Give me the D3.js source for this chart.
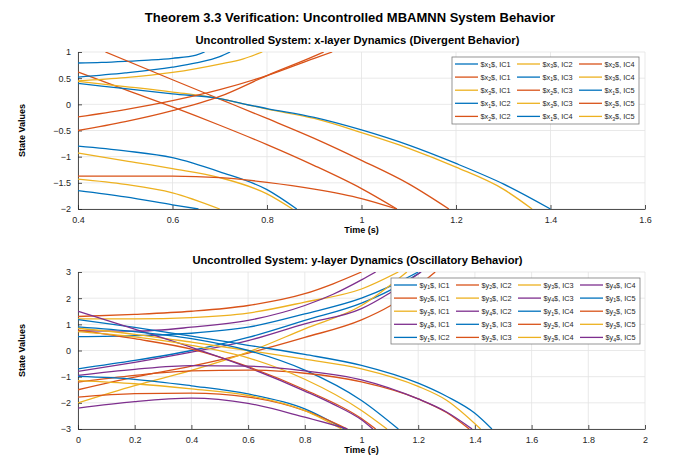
<!DOCTYPE html>
<html>
<head>
<meta charset="utf-8">
<script src="https://cdn.jsdelivr.net/npm/d3@7/dist/d3.min.js"></script>
<style>
  html, body { margin: 0; padding: 0; background: #fff; }
  svg { display: block; font-family: "Liberation Sans", Arial, sans-serif; }
</style>
</head>
<body>
<svg id="chart" width="698" height="468"></svg>
<script>
// colours used by the figure
const BLUE = "#0072BD", ORANGE = "#D95319", YELLOW = "#EDB120", PURPLE = "#7E2F8E";

// ---- x-layer curves, [time, value] ----
const x1IC1 = [[0.4,0.79],[0.45,0.80],[0.5,0.82],[0.55,0.845],[0.6,0.88],[0.65,0.94],[0.668,1.0]];
const x2IC1 = [[0.4,0.62],[0.5,0.28],[0.6,-0.05],[0.7,-0.40],[0.8,-0.77],[0.9,-1.17],[1.0,-1.61],[1.075,-2.0]];
const x3IC1 = [[0.4,0.45],[0.5,0.51],[0.6,0.61],[0.7,0.77],[0.75,0.87],[0.79,1.0]];
const x1IC2 = [[0.4,0.52],[0.5,0.60],[0.6,0.71],[0.65,0.79],[0.7,0.91],[0.722,1.0]];
const x2IC2 = [[0.458,1.0],[0.6,0.47],[0.7,0.10],[0.8,-0.27],[0.9,-0.65],[1.0,-1.07],[1.1,-1.52],[1.185,-2.0]];
const x3IC2 = [[0.4,0.44],[0.5,0.34],[0.6,0.235],[0.7,0.11],[0.75,0.01],[0.8,-0.09],[0.9,-0.27],[1.0,-0.54],[1.1,-0.84],[1.2,-1.20],[1.3,-1.62],[1.361,-2.0]];
const x1IC3 = [[0.4,0.40],[0.5,0.30],[0.6,0.20],[0.7,0.11],[0.75,0.01],[0.8,-0.08],[0.9,-0.25],[1.0,-0.49],[1.1,-0.78],[1.2,-1.13],[1.3,-1.52],[1.4,-2.0]];
const x2IC3 = [[0.4,-0.24],[0.5,-0.10],[0.6,0.07],[0.7,0.28],[0.8,0.55],[0.9,0.88],[0.938,1.0]];
const x3IC3 = [[0.4,-0.93],[0.5,-1.08],[0.6,-1.23],[0.7,-1.40],[0.8,-1.71],[0.854,-2.0]];
const x1IC4 = [[0.4,-0.80],[0.5,-0.89],[0.6,-1.02],[0.7,-1.29],[0.8,-1.63],[0.863,-2.0]];
const x2IC4 = [[0.4,-0.5],[0.5,-0.33],[0.6,-0.12],[0.7,0.15],[0.8,0.55],[0.9,0.92],[0.92,1.0]];
const x3IC4 = [[0.4,-1.43],[0.5,-1.53],[0.6,-1.69],[0.7,-2.0]];
const x1IC5 = [[0.4,-1.65],[0.5,-1.77],[0.6,-1.92],[0.655,-2.0]];
const x2IC5 = [[0.4,-1.37],[0.5,-1.37],[0.6,-1.37],[0.7,-1.40],[0.8,-1.49],[0.9,-1.62],[1.0,-1.80],[1.075,-2.0]];
const x3IC5 = [];

// ---- y-layer curves ----
const y1IC1 = [[0,0.53],[0.2,0.57],[0.4,0.66],[0.6,0.89],[0.8,1.40],[1.0,2.0],[1.1,2.45],[1.2,3.0]];
const y2IC1 = [[0,1.3],[0.2,1.38],[0.4,1.5],[0.6,1.72],[0.8,2.17],[0.9,2.55],[1.0,3.0]];
const y3IC1 = [[0,1.21],[0.2,1.21],[0.4,1.26],[0.6,1.43],[0.8,1.85],[1.0,2.35],[1.13,3.0]];
const y4IC1 = [[0,0.75],[0.2,0.74],[0.4,0.89],[0.6,1.15],[0.8,1.72],[0.9,2.15],[1.0,2.7],[1.05,3.0]];
const y1IC2 = [[0,-0.70],[0.2,-0.38],[0.4,0.0],[0.6,0.5],[0.8,1.15],[1.0,1.81],[1.1,2.3],[1.21,3.0]];
const y2IC2 = [[0,-1.5],[0.2,-1.02],[0.4,-0.6],[0.6,-0.1],[0.8,0.5],[1.0,1.17],[1.1,1.7],[1.26,3.0]];
const y3IC2 = [[0,-2.0],[0.2,-1.34],[0.4,-0.76],[0.6,-0.06],[0.8,0.83],[1.0,1.72],[1.16,3.0]];
const y4IC2 = [[0,-0.80],[0.2,-0.45],[0.4,-0.06],[0.6,0.38],[0.8,1.02],[1.0,1.6],[1.1,2.2],[1.21,3.0]];
const y1IC3 = [[0,1.18],[0.2,0.88],[0.4,0.55],[0.6,0.2],[0.8,-0.15],[1.0,-0.57],[1.2,-1.25],[1.3,-1.75],[1.4,-2.4],[1.46,-3.0]];
const y2IC3 = [[0,0.78],[0.2,0.45],[0.4,0.05],[0.6,-0.62],[0.8,-1.5],[1.0,-2.6],[1.05,-3.0]];
const y3IC3 = [[0,0.85],[0.2,0.62],[0.4,0.32],[0.6,0.0],[0.8,-0.33],[1.0,-0.70],[1.2,-1.37],[1.3,-1.9],[1.42,-3.0]];
const y4IC3 = [[0,1.5],[0.2,0.82],[0.4,0.12],[0.6,-0.65],[0.8,-1.55],[0.9,-2.05],[1.0,-2.65],[1.04,-3.0]];
const y1IC4 = [[0,0.9],[0.2,0.72],[0.4,0.45],[0.6,0.0],[0.8,-0.75],[1.0,-1.91],[1.13,-3.0]];
const y2IC4 = [[0,-1.21],[0.2,-0.95],[0.4,-0.78],[0.6,-0.75],[0.8,-0.87],[1.0,-1.2],[1.2,-1.85],[1.3,-2.37],[1.38,-3.0]];
const y3IC4 = [[0,0.72],[0.2,0.52],[0.4,0.2],[0.6,-0.28],[0.8,-1.1],[1.0,-2.29],[1.09,-3.0]];
const y4IC4 = [[0,-0.95],[0.2,-0.72],[0.4,-0.58],[0.6,-0.6],[0.8,-0.78],[1.0,-1.12],[1.2,-1.85],[1.3,-2.35],[1.39,-3.0]];
const y1IC5 = [[0,-0.99],[0.2,-1.1],[0.4,-1.35],[0.6,-1.66],[0.8,-2.23],[0.94,-3.0]];
const y2IC5 = [[0,-1.78],[0.2,-1.65],[0.4,-1.63],[0.6,-1.78],[0.8,-2.3],[0.95,-3.0]];
const y3IC5 = [[0,-1.15],[0.2,-1.27],[0.4,-1.47],[0.6,-1.72],[0.8,-2.3],[0.93,-3.0]];
const y4IC5 = [[0,-2.2],[0.2,-1.95],[0.4,-1.82],[0.6,-2.02],[0.8,-2.55],[0.95,-3.0]];

// tick values
const xTicksTop = [0.4, 0.6, 0.8, 1.0, 1.2, 1.4, 1.6];
const yTicksTop = [-2, -1.5, -1, -0.5, 0, 0.5, 1];
const xTicksBottom = [0, 0.2, 0.4, 0.6, 0.8, 1, 1.2, 1.4, 1.6, 1.8, 2];
const yTicksBottom = [-3, -2, -1, 0, 1, 2, 3];

// series in plot order (IC outer loop, variable inner loop)
const xSeries = [
  { v: 1, ic: 1, color: BLUE, data: x1IC1 }, { v: 2, ic: 1, color: ORANGE, data: x2IC1 }, { v: 3, ic: 1, color: YELLOW, data: x3IC1 },
  { v: 1, ic: 2, color: BLUE, data: x1IC2 }, { v: 2, ic: 2, color: ORANGE, data: x2IC2 }, { v: 3, ic: 2, color: YELLOW, data: x3IC2 },
  { v: 1, ic: 3, color: BLUE, data: x1IC3 }, { v: 2, ic: 3, color: ORANGE, data: x2IC3 }, { v: 3, ic: 3, color: YELLOW, data: x3IC3 },
  { v: 1, ic: 4, color: BLUE, data: x1IC4 }, { v: 2, ic: 4, color: ORANGE, data: x2IC4 }, { v: 3, ic: 4, color: YELLOW, data: x3IC4 },
  { v: 1, ic: 5, color: BLUE, data: x1IC5 }, { v: 2, ic: 5, color: ORANGE, data: x2IC5 }, { v: 3, ic: 5, color: YELLOW, data: x3IC5 },
];
const ySeries = [
  { v: 1, ic: 1, color: BLUE, data: y1IC1 }, { v: 2, ic: 1, color: ORANGE, data: y2IC1 }, { v: 3, ic: 1, color: YELLOW, data: y3IC1 }, { v: 4, ic: 1, color: PURPLE, data: y4IC1 },
  { v: 1, ic: 2, color: BLUE, data: y1IC2 }, { v: 2, ic: 2, color: ORANGE, data: y2IC2 }, { v: 3, ic: 2, color: YELLOW, data: y3IC2 }, { v: 4, ic: 2, color: PURPLE, data: y4IC2 },
  { v: 1, ic: 3, color: BLUE, data: y1IC3 }, { v: 2, ic: 3, color: ORANGE, data: y2IC3 }, { v: 3, ic: 3, color: YELLOW, data: y3IC3 }, { v: 4, ic: 3, color: PURPLE, data: y4IC3 },
  { v: 1, ic: 4, color: BLUE, data: y1IC4 }, { v: 2, ic: 4, color: ORANGE, data: y2IC4 }, { v: 3, ic: 4, color: YELLOW, data: y3IC4 }, { v: 4, ic: 4, color: PURPLE, data: y4IC4 },
  { v: 1, ic: 5, color: BLUE, data: y1IC5 }, { v: 2, ic: 5, color: ORANGE, data: y2IC5 }, { v: 3, ic: 5, color: YELLOW, data: y3IC5 }, { v: 4, ic: 5, color: PURPLE, data: y4IC5 },
];

const AXIS = "#262626";
const GRID = "#e3e3e3";
const svg = d3.select("#chart");

svg.append("text")
  .attr("x", 350).attr("y", 22)
  .attr("text-anchor", "middle")
  .style("font-size", "13px").style("font-weight", "bold").style("fill", "#000")
  .text("Theorem 3.3 Verification: Uncontrolled MBAMNN System Behavior");

function drawPanel(opts) {
  const { left, top, width, height } = opts.box;
  const x = d3.scaleLinear().domain(opts.xDomain).range([left, left + width]);
  const y = d3.scaleLinear().domain(opts.yDomain).range([top + height, top]);
  const g = svg.append("g");

  // grid
  g.append("g").selectAll("line").data(opts.xTicks).enter().append("line")
    .attr("x1", d => x(d)).attr("x2", d => x(d))
    .attr("y1", top).attr("y2", top + height)
    .attr("stroke", GRID).attr("stroke-width", 0.8);
  g.append("g").selectAll("line").data(opts.yTicks).enter().append("line")
    .attr("x1", left).attr("x2", left + width)
    .attr("y1", d => y(d)).attr("y2", d => y(d))
    .attr("stroke", GRID).attr("stroke-width", 0.8);

  // axes (ticks point inward like MATLAB)
  const xAxis = g.append("g")
    .attr("transform", "translate(0," + (top + height) + ")")
    .call(d3.axisBottom(x).tickValues(opts.xTicks).tickSizeInner(-4).tickSizeOuter(0).tickPadding(8).tickFormat(opts.xFormat));
  const yAxis = g.append("g")
    .attr("transform", "translate(" + left + ",0)")
    .call(d3.axisLeft(y).tickValues(opts.yTicks).tickSizeInner(-4).tickSizeOuter(0).tickPadding(7).tickFormat(opts.yFormat));
  [xAxis, yAxis].forEach(function (a) {
    a.select(".domain").attr("stroke", AXIS).attr("stroke-width", 0.8);
    a.selectAll(".tick line").attr("stroke", AXIS).attr("stroke-width", 0.8);
    a.selectAll("text").style("fill", AXIS).style("font-size", "9px").style("font-family", "Liberation Sans, Arial, sans-serif");
  });

  // curves
  const clipId = "clip-" + opts.id;
  svg.append("clipPath").attr("id", clipId).append("rect")
    .attr("x", left).attr("y", top).attr("width", width).attr("height", height);
  const line = d3.line().x(d => x(d[0])).y(d => y(d[1])).curve(d3.curveMonotoneX);
  g.append("g").attr("clip-path", "url(#" + clipId + ")")
    .selectAll("path").data(opts.series.filter(s => s.data.length > 0)).enter().append("path")
    .attr("d", s => line(s.data))
    .attr("fill", "none")
    .attr("stroke", s => s.color)
    .attr("stroke-width", 1.3);

  // titles
  g.append("text").attr("x", left + width / 2 - 4).attr("y", top - 8)
    .attr("text-anchor", "middle")
    .style("font-size", "11.2px").style("font-weight", "bold").style("fill", "#000")
    .text(opts.title);
  g.append("text").attr("x", left + width / 2).attr("y", top + height + 24)
    .attr("text-anchor", "middle")
    .style("font-size", "9px").style("font-weight", "bold").style("fill", "#000")
    .text("Time (s)");
  g.append("text")
    .attr("transform", "translate(25," + (top + height / 2) + ") rotate(-90)")
    .attr("text-anchor", "middle")
    .style("font-size", "9px").style("font-weight", "bold").style("fill", "#000")
    .text("State Values");

  // legend, filled column by column
  const lg = opts.legend;
  const lgG = g.append("g");
  lgG.append("rect")
    .attr("x", lg.x).attr("y", lg.y).attr("width", lg.w).attr("height", lg.h)
    .attr("fill", "#fff").attr("stroke", "#7a7a7a").attr("stroke-width", 0.8);
  const items = lgG.selectAll("g.item").data(opts.series).enter().append("g")
    .attr("transform", function (d, i) {
      const col = Math.floor(i / 5), row = i % 5;
      return "translate(" + (lg.x + 3 + col * lg.colW) + "," + (lg.y + 7 + row * 13.1) + ")";
    });
  items.append("line").attr("x1", 0).attr("x2", 23).attr("y1", 0).attr("y2", 0)
    .attr("stroke", d => d.color).attr("stroke-width", 1.3);
  const t = items.append("text").attr("x", 25.5).attr("y", 2.5)
    .style("font-size", "7.3px").style("fill", AXIS);
  t.append("tspan").text("$" + opts.varName);
  t.append("tspan").attr("dy", 1.8).style("font-size", "5.2px").text(d => d.v);
  t.append("tspan").attr("dy", -1.8).text(d => "$, IC" + d.ic);
}

drawPanel({
  id: "top",
  box: { left: 78, top: 52, width: 567, height: 157 },
  xDomain: [0.4, 1.6], yDomain: [-2, 1],
  xTicks: xTicksTop, yTicks: yTicksTop,
  xFormat: d3.format(".1~f"), yFormat: d3.format(".1~f"),
  series: xSeries, varName: "x",
  title: "Uncontrolled System: x-layer Dynamics (Divergent Behavior)",
  legend: { x: 452, y: 57, w: 187, h: 67, colW: 62 },
});

drawPanel({
  id: "bottom",
  box: { left: 78, top: 272, width: 567, height: 157 },
  xDomain: [0, 2], yDomain: [-3, 3],
  xTicks: xTicksBottom, yTicks: yTicksBottom,
  xFormat: d3.format(".1~f"), yFormat: d3.format("d"),
  series: ySeries, varName: "y",
  title: "Uncontrolled System: y-layer Dynamics (Oscillatory Behavior)",
  legend: { x: 391, y: 278, w: 249, h: 66, colW: 62 },
});
</script>
</body>
</html>
